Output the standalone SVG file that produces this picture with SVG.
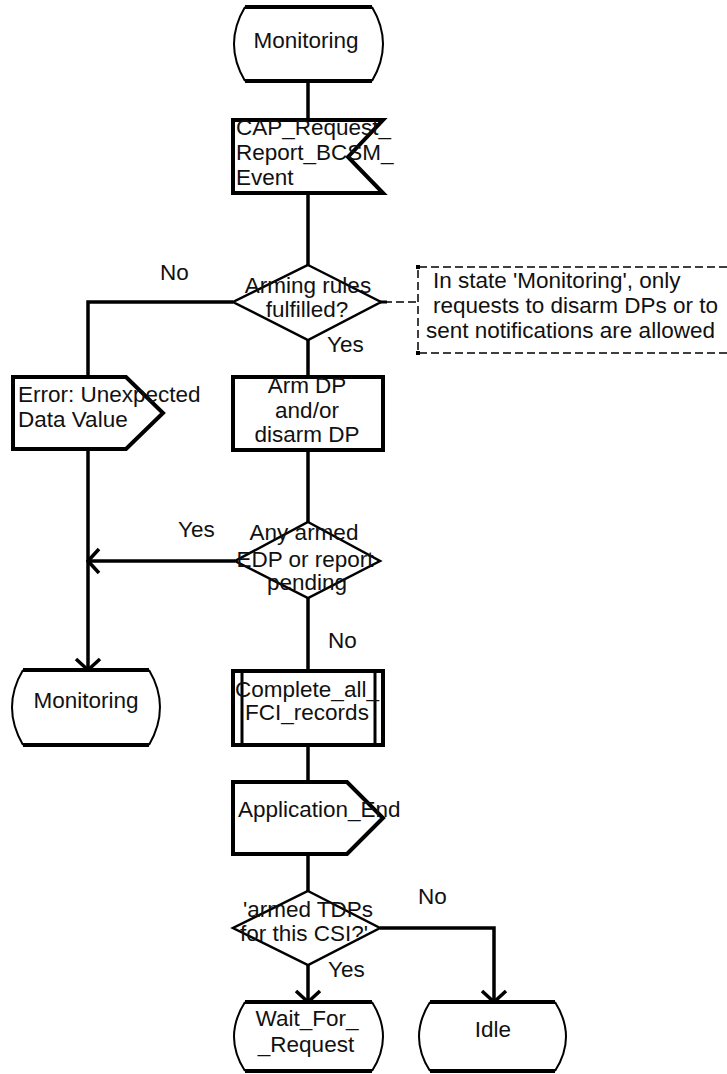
<svg xmlns="http://www.w3.org/2000/svg" width="727" height="1074" viewBox="0 0 727 1074">
<style>
  text { font-family: "Liberation Sans", Arial, sans-serif; font-size: 22.5px; fill: #111; }
  .c { text-anchor: middle; }
  .shape { fill: #fff; stroke: #000; stroke-width: 4; stroke-linejoin: miter; }
  .dia { fill: #fff; stroke: #000; stroke-width: 2.5; }
  .edge { fill: none; stroke: #000; stroke-width: 4; }
  .side { fill: none; stroke: #000; stroke-width: 2; }
  .conn { fill: none; stroke: #000; stroke-width: 3.5; }
  .dash { fill: none; stroke: #000; stroke-width: 1.5; stroke-dasharray: 8 4; }
  .thin { fill: none; stroke: #000; stroke-width: 3; }
</style>
<defs>
  <marker id="arrow" markerUnits="userSpaceOnUse" viewBox="-14 -15 16 30" markerWidth="16" markerHeight="30" refX="0" refY="0" orient="auto">
    <path d="M-11,-12 L0,0 L-11,12" fill="none" stroke="#000" stroke-width="3.5"/>
  </marker>
</defs>

<g id="connectors">
  <line class="conn" x1="308" y1="81" x2="308" y2="120"/>
  <line class="conn" x1="308" y1="193" x2="308" y2="265"/>
  <polyline class="conn" points="233,302 88,302 88,377"/>
  <line class="conn" x1="308" y1="340" x2="308" y2="377"/>
  <line class="conn" x1="308" y1="450" x2="308" y2="522"/>
  <line class="conn" x1="88" y1="449" x2="88" y2="670" marker-end="url(#arrow)"/>
  <line class="conn" x1="235" y1="561" x2="88" y2="561" marker-end="url(#arrow)"/>
  <line class="conn" x1="308" y1="598" x2="308" y2="671"/>
  <line class="conn" x1="308" y1="745" x2="308" y2="782"/>
  <line class="conn" x1="308" y1="854" x2="308" y2="891"/>
  <line class="conn" x1="308" y1="965" x2="308" y2="1002" marker-end="url(#arrow)"/>
  <polyline class="conn" points="380,928 494,928 494,1002" marker-end="url(#arrow)"/>
  <line class="dash" x1="384" y1="302" x2="418" y2="302"/>
  <line x1="380" y1="302" x2="387" y2="302" stroke="#000" stroke-width="3"/>
  <text x="160" y="280">No</text>
  <text x="327" y="352">Yes</text>
  <text x="178" y="537">Yes</text>
  <text x="328" y="648">No</text>
  <text x="418" y="904">No</text>
  <text x="328" y="977">Yes</text>
</g>

<g id="state-monitoring-top">
  <path d="M245,7 L372,7 Q394,44 372,81 L245,81 Q223,44 245,7 Z" fill="#fff" stroke="none"/>
  <line class="edge" x1="245" y1="7" x2="372" y2="7"/>
  <line class="edge" x1="245" y1="81" x2="372" y2="81"/>
  <path class="side" d="M245,7 Q223,44 245,81"/>
  <path class="side" d="M372,7 Q394,44 372,81"/>
  <text class="c" x="306" y="48">Monitoring</text>
</g>

<g id="input-cap-request">
  <path class="shape" d="M233,120 L383,120 L348,157 L383,193 L233,193 Z"/>
  <text x="236" y="135">CAP_Request_</text>
  <text x="236" y="160">Report_BCSM_</text>
  <text x="236" y="185">Event</text>
</g>

<g id="decision-arming">
  <polygon class="dia" points="308,265 381,302 308,340 233,302"/>
  <text class="c" x="308" y="293">Arming rules</text>
  <text class="c" x="307" y="317">fulfilled?</text>
</g>

<g id="comment">
  <polyline class="dash" points="727,267 418,267 418,353 727,353"/>
  <rect x="416" y="265" width="4" height="4" fill="#000"/>
  <rect x="416" y="351" width="4" height="4" fill="#000"/>
  <text x="433" y="288" font-size="23">In state 'Monitoring', only</text>
  <text x="433" y="313" font-size="23">requests to disarm DPs or to</text>
  <text x="426" y="338" font-size="23">sent notifications are allowed</text>
</g>

<g id="output-error">
  <path class="shape" d="M13,377 L126,377 L163,413 L126,449 L13,449 Z"/>
  <text x="18" y="402">Error: Unexpected</text>
  <text x="18" y="427">Data Value</text>
</g>

<g id="task-arm-dp">
  <rect class="shape" x="233" y="377" width="150" height="73"/>
  <text class="c" x="307" y="393">Arm DP</text>
  <text class="c" x="307" y="418">and/or</text>
  <text class="c" x="307" y="442">disarm DP</text>
</g>

<g id="decision-any-armed">
  <polygon class="dia" points="308,522 380,561 308,598 235,561"/>
  <text class="c" x="304" y="540">Any armed</text>
  <text class="c" x="305" y="567">EDP or report</text>
  <text class="c" x="307" y="590">pending</text>
</g>

<g id="state-monitoring-bottom">
  <path d="M23,670 L149,670 Q171,707 149,745 L23,745 Q1,707 23,670 Z" fill="#fff" stroke="none"/>
  <line class="edge" x1="23" y1="670" x2="149" y2="670"/>
  <line class="edge" x1="23" y1="745" x2="149" y2="745"/>
  <path class="side" d="M23,670 Q1,707 23,745"/>
  <path class="side" d="M149,670 Q171,707 149,745"/>
  <text class="c" x="86" y="708">Monitoring</text>
</g>

<g id="procedure-complete">
  <rect class="shape" x="233" y="671" width="150" height="74"/>
  <line class="thin" x1="242" y1="671" x2="242" y2="745"/>
  <line class="thin" x1="375" y1="671" x2="375" y2="745"/>
  <text class="c" x="307" y="697">Complete_all_</text>
  <text class="c" x="307" y="720">FCI_records</text>
</g>

<g id="output-application-end">
  <path class="shape" d="M233,782 L347,782 L383,818 L347,854 L233,854 Z"/>
  <text x="238" y="817">Application_End</text>
</g>

<g id="decision-armed-tdps">
  <polygon class="dia" points="308,891 380,928 308,965 233,928"/>
  <text class="c" x="308" y="917">'armed TDPs</text>
  <text class="c" x="304" y="941">for this CSI?'</text>
</g>

<g id="state-wait-for-request">
  <path d="M245,1002 L372,1002 Q394,1037 372,1071 L245,1071 Q223,1037 245,1002 Z" fill="#fff" stroke="none"/>
  <line class="edge" x1="245" y1="1002" x2="372" y2="1002"/>
  <line class="edge" x1="245" y1="1071" x2="372" y2="1071"/>
  <path class="side" d="M245,1002 Q223,1037 245,1071"/>
  <path class="side" d="M372,1002 Q394,1037 372,1071"/>
  <text class="c" x="307" y="1026">Wait_For_</text>
  <text class="c" x="306" y="1052">_Request</text>
</g>

<g id="state-idle">
  <path d="M430,1002 L555,1002 Q577,1037 555,1071 L430,1071 Q408,1037 430,1002 Z" fill="#fff" stroke="none"/>
  <line class="edge" x1="430" y1="1002" x2="555" y2="1002"/>
  <line class="edge" x1="430" y1="1071" x2="555" y2="1071"/>
  <path class="side" d="M430,1002 Q408,1037 430,1071"/>
  <path class="side" d="M555,1002 Q577,1037 555,1071"/>
  <text class="c" x="493" y="1037">Idle</text>
</g>
</svg>
